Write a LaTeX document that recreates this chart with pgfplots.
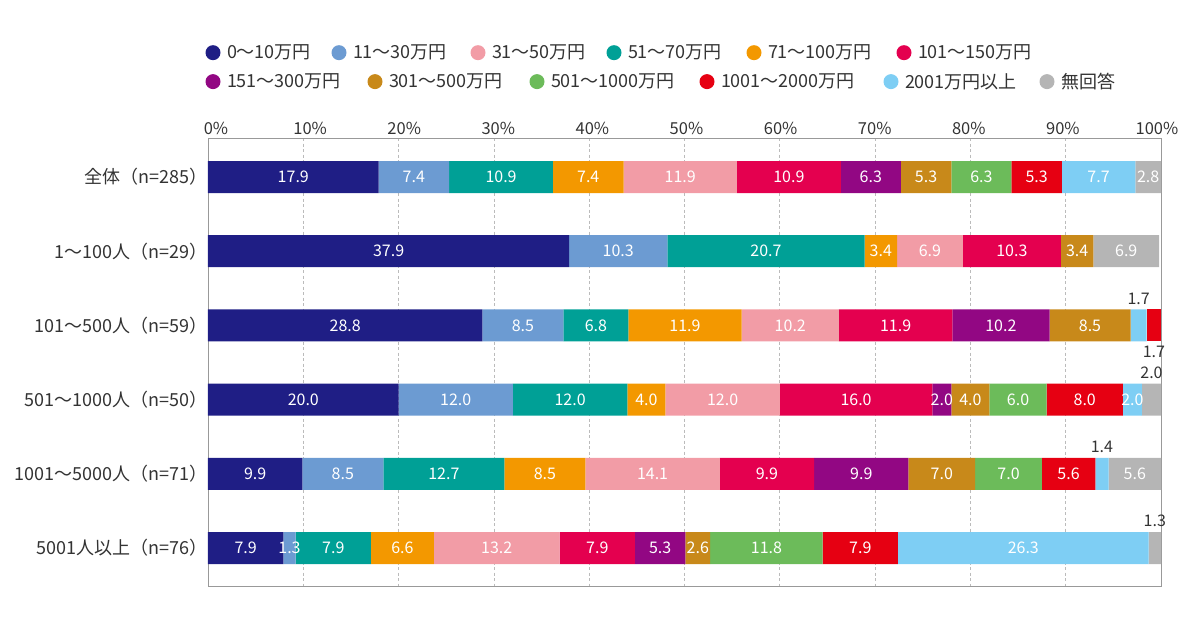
\documentclass[border=0pt]{standalone}
\usepackage{pgfplots}
\pgfplotsset{compat=1.18}
\usepackage{pgfplotstable}
\usepackage{fontspec}
\setmainfont{Noto Sans CJK JP}
\definecolor{cA}{HTML}{1F1E85}
\definecolor{cB}{HTML}{6C9BD2}
\definecolor{cC}{HTML}{F29CA6}
\definecolor{cD}{HTML}{00A096}
\definecolor{cE}{HTML}{F39800}
\definecolor{cF}{HTML}{E4004F}
\definecolor{cG}{HTML}{920783}
\definecolor{cH}{HTML}{C8891A}
\definecolor{cI}{HTML}{6CBB5A}
\definecolor{cJ}{HTML}{E60012}
\definecolor{cK}{HTML}{7ECEF4}
\definecolor{cL}{HTML}{B5B5B5}
\definecolor{textgray}{HTML}{333333}
\definecolor{framegray}{HTML}{999999}
\definecolor{gridgray}{HTML}{BBBBBB}

% columns: a 0-10, b 11-30, d 51-70, e 71-100, c 31-50, f 101-150, g 151-300,
% h 301-500, i 501-1000, j 1001-2000, k 2001+ (kin inside label / kout label above),
% jb 1001-2000 drawn after 2001+ (row 101-500), l no answer (lin / lout);
% jbw, linw: drawn widths (the rows' rounded shares sum to 100.1-100.2, bars end at 100)
\pgfplotstableread{
row a b d e c f g h i j kin kout jb jbw lin linw lout
0 17.9 7.4 10.9 7.4 11.9 10.9 6.3 5.3 6.3 5.3 7.7 0 0 0 2.8 2.7 0
1 37.9 10.3 20.7 3.4 6.9 10.3 0 3.4 0 0 0 0 0 0 6.9 6.9 0
2 28.8 8.5 6.8 11.9 10.2 11.9 10.2 8.5 0 0 0 1.7 1.7 1.5 0 0 0
3 20.0 12.0 12.0 4.0 12.0 16.0 2.0 4.0 6.0 8.0 2.0 0 0 0 0 0 2.0
4 9.9 8.5 12.7 8.5 14.1 9.9 9.9 7.0 7.0 5.6 0 1.4 0 0 5.6 5.5 0
5 7.9 1.3 7.9 6.6 13.2 7.9 5.3 2.6 11.8 7.9 26.3 0 0 0 0 0 1.3
}\data

\newcommand\tl[2]{\makebox[0pt]{\hspace*{#1}#2}}
\pgfplotsset{
  seg/.style={fill=#1, draw=none},
  outside/.style={nodes near coords style={yshift=#1, text=textgray}},
  dotlegend/.style={
    hide axis, scale only axis, width=1200pt, height=631pt,
    at={(0pt,0pt)}, anchor=south west,
    xmin=0, xmax=1, ymin=0, ymax=1,
    legend columns=6,
    legend cell align=left,
    legend image code/.code={\path[fill=none, draw=none] (-8pt,-8pt) rectangle (14pt,8pt); \fill[##1] (0pt,0pt) circle (7.5pt);},
  },
}

\begin{document}
\begin{tikzpicture}
\useasboundingbox (0,0) rectangle (1200pt,631pt);
\begin{axis}[
  at={(208pt,45pt)}, anchor=south west,
  scale only axis, width=953pt, height=448pt,
  xbar stacked, bar width=32pt,
  xmin=0, xmax=100,
  ymin=-0.526, ymax=5.512, y dir=reverse,
  ytick={0,...,5},
  yticklabels={全体（n=285）,1〜100人（n=29）,101〜500人（n=59）,501〜1000人（n=50）,1001〜5000人（n=71）,5001人以上（n=76）},
  yticklabel style={font=\fontsize{18}{21}\selectfont, text=textgray, anchor=east, inner sep=0pt},
  xtick={0,10,...,100},
  xticklabels={\tl{16pt}{0\%},\tl{13.6pt}{10\%},\tl{11.2pt}{20\%},\tl{8.8pt}{30\%},\tl{6.4pt}{40\%},\tl{4pt}{50\%},\tl{1.6pt}{60\%},\tl{-0.8pt}{70\%},\tl{-3.2pt}{80\%},\tl{-5.6pt}{90\%},\tl{-8pt}{100\%}},
  xticklabel pos=upper,
  xticklabel style={font=\fontsize{16.5}{19}\selectfont, text=textgray},
  major tick length=0pt,
  xmajorgrids,
  grid style={gridgray, dash pattern=on 3pt off 2.5pt, line width=0.8pt},
  axis line style={framegray, line width=0.8pt},
  point meta=explicit,
  nodes near coords={\pgfmathfloatifflags{\pgfplotspointmeta}{0}{}{\pgfmathprintnumber[fixed,fixed zerofill,precision=1,assume math mode=true]{\pgfplotspointmeta}}},
  every node near coord/.append style={font=\fontsize{16}{19}\selectfont, anchor=center, text=white, inner sep=0pt},
]
\addplot[seg=cA] table[x=a,y=row,meta=a]{\data};
\addplot[seg=cB] table[x=b,y=row,meta=b]{\data};
\addplot[seg=cD] table[x=d,y=row,meta=d]{\data};
\addplot[seg=cE] table[x=e,y=row,meta=e]{\data};
\addplot[seg=cC] table[x=c,y=row,meta=c]{\data};
\addplot[seg=cF] table[x=f,y=row,meta=f]{\data};
\addplot[seg=cG] table[x=g,y=row,meta=g]{\data};
\addplot[seg=cH] table[x=h,y=row,meta=h]{\data};
\addplot[seg=cI] table[x=i,y=row,meta=i]{\data};
\addplot[seg=cJ] table[x=j,y=row,meta=j]{\data};
\addplot[seg=cK] table[x=kin,y=row,meta=kin]{\data};
\addplot[seg=cK, outside=27pt] table[x=kout,y=row,meta=kout]{\data};
\addplot[seg=cJ, outside=-26pt] table[x=jbw,y=row,meta=jb]{\data};
\addplot[seg=cL] table[x=linw,y=row,meta=lin]{\data};
\addplot[seg=cL, outside=27pt] table[x=lout,y=row,meta=lout]{\data};
\end{axis}

\begin{axis}[dotlegend,
  legend style={at={(0.17083,0.9165)}, anchor=west, draw=none, fill=none, inner sep=0pt, outer sep=0pt,
    column sep=0pt, row sep=0pt, font=\fontsize{18}{21}\selectfont,
    nodes={inner sep=0pt, outer sep=0pt, text=textgray}},
]
\addlegendimage{fill=cA, draw=none}\addlegendentry{\makebox[104pt][l]{0〜10万円}}
\addlegendimage{fill=cB, draw=none}\addlegendentry{\makebox[117pt][l]{11〜30万円}}
\addlegendimage{fill=cC, draw=none}\addlegendentry{\makebox[114pt][l]{31〜50万円}}
\addlegendimage{fill=cD, draw=none}\addlegendentry{\makebox[118pt][l]{51〜70万円}}
\addlegendimage{fill=cE, draw=none}\addlegendentry{\makebox[128pt][l]{71〜100万円}}
\addlegendimage{fill=cF, draw=none}\addlegendentry{\makebox[120pt][l]{101〜150万円}}
\end{axis}

\begin{axis}[dotlegend,
  legend style={at={(0.17083,0.8706)}, anchor=west, draw=none, fill=none, inner sep=0pt, outer sep=0pt,
    column sep=0pt, row sep=0pt, font=\fontsize{18}{21}\selectfont,
    nodes={inner sep=0pt, outer sep=0pt, text=textgray}},
]
\addlegendimage{fill=cG, draw=none}\addlegendentry{\makebox[140pt][l]{151〜300万円}}
\addlegendimage{fill=cH, draw=none}\addlegendentry{\makebox[140pt][l]{301〜500万円}}
\addlegendimage{fill=cI, draw=none}\addlegendentry{\makebox[148pt][l]{501〜1000万円}}
\addlegendimage{fill=cJ, draw=none}\addlegendentry{\makebox[162pt][l]{1001〜2000万円}}
\addlegendimage{fill=cK, draw=none}\addlegendentry{\makebox[134pt][l]{2001万円以上}}
\addlegendimage{fill=cL, draw=none}\addlegendentry{\makebox[70pt][l]{無回答}}
\end{axis}
\end{tikzpicture}
\end{document}
